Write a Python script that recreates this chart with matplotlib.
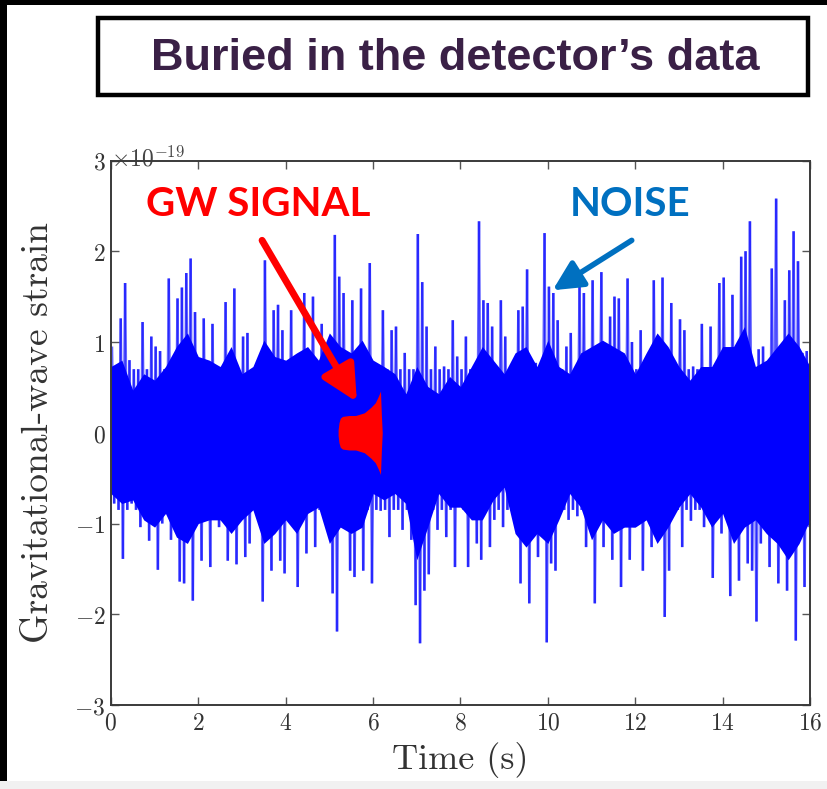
import numpy as np
import matplotlib
matplotlib.use("Agg")
import matplotlib.pyplot as plt
from matplotlib.collections import LineCollection
from matplotlib.patches import Rectangle
from matplotlib.ticker import FuncFormatter

plt.rcParams["mathtext.fontset"] = "cm"

# Strain record, 0.1 s bins: highest and lowest excursion in each bin (units of 1e-19)
noise_upper = [
    0.95, 0.70, 1.26, 1.65, 0.80, 0.70, 0.70, 1.22, 0.70, 1.06,
    0.95, 0.90, 0.70, 1.70, 0.70, 1.48, 1.60, 1.76, 1.92, 1.33,
    0.70, 1.26, 0.70, 1.20, 0.70, 0.70, 1.44, 0.70, 1.59, 0.70,
    1.06, 1.10, 0.70, 0.70, 0.70, 1.90, 0.70, 1.35, 1.41, 1.13,
    0.70, 1.35, 0.70, 0.70, 1.54, 0.70, 1.50, 0.70, 1.20, 0.70,
    0.70, 2.18, 1.72, 1.54, 0.70, 1.46, 0.70, 1.59, 0.70, 1.87,
    0.70, 0.70, 1.35, 0.70, 1.13, 1.17, 0.70, 0.88, 0.70, 0.70,
    2.19, 1.66, 1.17, 0.70, 0.95, 0.70, 0.73, 0.70, 1.24, 0.84,
    0.70, 1.06, 0.70, 0.70, 2.33, 1.46, 1.43, 1.17, 0.70, 1.46,
    1.06, 0.70, 0.70, 1.35, 1.39, 1.80, 0.70, 0.77, 0.70, 2.20,
    1.61, 1.54, 1.24, 0.70, 0.95, 1.10, 0.70, 1.61, 1.54, 0.70,
    1.68, 0.70, 1.77, 0.70, 1.28, 1.50, 1.48, 0.70, 1.70, 1.00,
    0.70, 1.13, 0.70, 0.70, 1.68, 0.70, 1.71, 0.70, 1.43, 0.70,
    1.25, 1.13, 0.70, 0.73, 0.70, 1.20, 0.70, 1.17, 0.70, 1.65,
    1.71, 0.70, 1.52, 0.70, 1.94, 2.00, 2.33, 0.70, 0.92, 0.95,
    0.70, 1.81, 2.58, 0.70, 1.46, 1.79, 2.22, 1.89, 0.88, 0.90,
]
noise_lower = [
    -0.78, -0.85, -1.39, -0.85, -0.78, -0.85, -1.04, -0.85, -1.19, -0.85,
    -1.51, -1.00, -0.85, -1.18, -0.85, -1.64, -1.66, -0.85, -1.85, -0.85,
    -1.41, -0.85, -1.48, -0.85, -1.04, -0.85, -1.41, -0.85, -1.45, -0.85,
    -1.37, -1.22, -0.85, -0.85, -1.86, -0.85, -1.52, -0.85, -1.41, -1.55,
    -0.85, -0.85, -1.70, -0.85, -1.33, -0.85, -1.26, -0.85, -0.85, -1.11,
    -1.77, -2.19, -0.85, -0.85, -1.52, -1.59, -0.85, -1.52, -0.85, -1.66,
    -0.85, -0.86, -0.85, -1.15, -0.85, -0.85, -1.07, -0.85, -1.18, -1.90,
    -2.32, -1.74, -1.56, -0.85, -1.07, -0.85, -1.15, -0.85, -1.48, -0.81,
    -0.85, -1.48, -0.85, -1.22, -1.40, -0.85, -1.26, -0.96, -0.85, -1.04,
    -0.85, -0.67, -0.85, -1.66, -0.85, -1.88, -0.85, -1.37, -0.85, -2.31,
    -1.44, -1.52, -0.85, -0.85, -0.96, -0.85, -0.92, -0.85, -1.26, -0.85,
    -1.88, -0.85, -1.26, -0.85, -1.40, -0.85, -1.70, -0.85, -1.40, -1.04,
    -0.85, -1.52, -0.85, -1.26, -0.85, -0.85, -2.03, -1.52, -0.85, -0.85,
    -1.26, -0.85, -0.97, -0.85, -0.85, -1.04, -0.85, -1.60, -0.85, -1.11,
    -0.85, -1.80, -0.85, -1.63, -0.85, -1.44, -1.52, -2.08, -1.22, -0.85,
    -1.48, -0.85, -1.66, -0.85, -1.74, -0.85, -2.29, -0.85, -1.70, -1.04,
]
bin_width = 0.1

# Edges of the dense part of the trace, every 0.25 s (units of 1e-19)
core_step = 0.25
core_upper = [
    0.73, 0.80, 0.47, 0.65, 0.58, 0.73, 0.95, 1.10, 0.84, 0.80, 0.73, 0.95, 0.65, 0.73, 1.02, 0.84,
    0.80, 0.88, 0.95, 0.80, 1.10, 0.95, 0.88, 1.02, 0.80, 0.73, 0.65, 0.43, 0.73, 0.51, 0.43, 0.62,
    0.51, 0.73, 0.95, 0.80, 0.65, 0.88, 0.95, 0.73, 1.02, 0.73, 0.65, 0.88, 0.95, 1.02, 0.95, 0.88,
    0.65, 0.88, 1.10, 0.95, 0.73, 0.58, 0.73, 0.73, 0.95, 0.95, 1.17, 0.73, 0.80, 0.95, 1.10, 0.95,
    0.73,
]
core_lower = [
    -0.67, -0.78, -0.74, -0.96, -1.04, -0.89, -1.15, -1.22, -1.00, -0.96, -0.96, -1.11, -0.96, -0.85, -1.22, -1.11,
    -0.96, -1.11, -0.89, -0.82, -1.22, -1.04, -1.11, -1.04, -0.67, -0.74, -0.67, -0.78, -1.40, -1.04, -0.67, -0.82,
    -0.82, -0.96, -0.96, -0.74, -0.60, -1.11, -1.26, -1.11, -1.22, -0.96, -0.67, -0.82, -1.18, -0.96, -1.11, -1.04,
    -1.04, -0.96, -1.22, -1.04, -0.82, -0.67, -0.82, -1.04, -0.89, -1.22, -1.04, -0.96, -1.11, -1.22, -1.40, -1.22,
    -0.96,
]

# Injected chirp: amplitude envelope (units of 1e-19)
signal_t = [5.20, 5.22, 5.25, 5.30, 5.45, 5.60, 5.80, 5.95, 6.05, 6.12, 6.17, 6.19, 6.21]
signal_amp = [0.03, 0.11, 0.16, 0.18, 0.19, 0.19, 0.22, 0.28, 0.33, 0.40, 0.46, 0.20, 0.0]

x_ticks = [0, 2, 4, 6, 8, 10, 12, 14, 16]
y_ticks = [-3, -2, -1, 0, 1, 2, 3]

W, H = 828, 789
fig = plt.figure(figsize=(W / 100, H / 100), dpi=100)
fig.patch.set_facecolor("white")


def px_rect(x0, y0, x1, y1, **kw):
    """Rectangle given in figure pixels measured from the top-left corner."""
    r = Rectangle((x0 / W, 1 - y1 / H), (x1 - x0) / W, (y1 - y0) / H,
                  transform=fig.transFigure, **kw)
    fig.add_artist(r)
    return r


# frame of the slide
px_rect(0, 0, W, 5, facecolor="black", edgecolor="none")
px_rect(0, 0, 7, H, facecolor="black", edgecolor="none")
px_rect(0, 781, W, H, facecolor="#f1f1f1", edgecolor="none")

# headline box
px_rect(98, 18, 808, 95, facecolor="white", edgecolor="black", linewidth=3.2)
fig.text(455 / W, 1 - 58 / H, "Buried in the detector\u2019s data",
         family="Liberation Sans", weight="bold", fontsize=32.5,
         color="#3a2046", ha="center", va="center")

ax_left, ax_right, ax_top, ax_bottom = 110.9, 810.0, 160.5, 705.0
ax = fig.add_axes([ax_left / W, 1 - ax_bottom / H,
                   (ax_right - ax_left) / W, (ax_bottom - ax_top) / H])

# dense part of the noise
core_t = np.arange(len(core_upper)) * core_step
ax.fill_between(core_t, core_lower, core_upper, color="#0000ff", linewidth=0, zorder=2)

# noise excursions: alternate between the bin maxima and minima
t_up = np.arange(len(noise_upper)) * bin_width + bin_width / 4
t_lo = t_up + bin_width / 2
xs = np.empty(2 * len(noise_upper))
ys = np.empty(2 * len(noise_upper))
xs[0::2], xs[1::2] = t_up, t_lo
ys[0::2], ys[1::2] = noise_upper, noise_lower
pts = np.column_stack([xs, ys])
segs = np.stack([pts[:-1], pts[1:]], axis=1)
ax.add_collection(LineCollection(segs, colors="#0000ff", linewidths=1.8,
                                 alpha=0.6, capstyle="butt", zorder=2))

# signal
sig_amp = np.array(signal_amp)
ax.fill_between(signal_t, -sig_amp, sig_amp, color="#ff0000", linewidth=0, zorder=3)

ax.set_xlim(0, 16)
ax.set_ylim(-3, 3)
ax.set_xticks(x_ticks)
ax.set_yticks(y_ticks)
ax.xaxis.set_major_formatter(FuncFormatter(lambda v, p: r"$%d$" % v))
ax.yaxis.set_major_formatter(FuncFormatter(lambda v, p: r"$%d$" % v))
ax.tick_params(direction="in", length=6, width=1.0, top=True, right=True,
               labelsize=17, colors="#555555", labelcolor="#333333", pad=4)
for s in ax.spines.values():
    s.set_color("#3a3a3a")
    s.set_linewidth(1.4)
    s.set_zorder(4)

ax.text(0.0, 0.99, r"$\times10^{-19}$", transform=ax.transAxes,
        fontsize=17, color="#444444", ha="left", va="baseline")

ax.set_xlabel("Time (s)", family="cmr10", fontsize=26, color="#333333")
ax.xaxis.set_label_coords(0.5, -(742 - ax_bottom) / (ax_bottom - ax_top))
ax.set_ylabel("Gravitational-wave strain", family="cmr10", fontsize=27,
              color="#333333")
ax.yaxis.set_label_coords((55 - ax_left) / (ax_right - ax_left), 0.5)

# callouts
ax.text(3.37, 2.51, "GW SIGNAL", family="Lato", weight="bold", fontsize=29,
        color="#ff0000", ha="center", va="center")
ax.annotate("", xy=(5.63, 0.34), xytext=(3.46, 2.12),
            arrowprops=dict(arrowstyle="-|>,head_length=0.9,head_width=0.45",
                            mutation_scale=24, color="#ff0000", lw=5,
                            shrinkA=0, shrinkB=0), zorder=5)
ax.text(11.88, 2.51, "NOISE", family="Lato", weight="bold", fontsize=29,
        color="#0070c0", ha="center", va="center")
ax.annotate("", xy=(10.11, 1.57), xytext=(11.92, 2.12),
            arrowprops=dict(arrowstyle="-|>,head_length=0.9,head_width=0.45",
                            mutation_scale=20, color="#0070c0", lw=4,
                            shrinkA=0, shrinkB=0), zorder=5)

fig.savefig("out.png", dpi=100)
